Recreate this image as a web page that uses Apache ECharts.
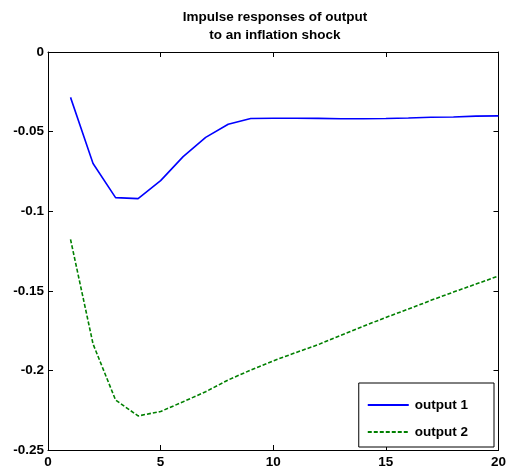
<!DOCTYPE html>
<html>
	<head>
		<meta charset="UTF-8">
		<title>Impulse responses</title>
		<script src="https://cdn.jsdelivr.net/npm/echarts@6/dist/echarts.min.js"></script>
		<style>
			html, body { margin: 0; padding: 0; background: #fff; }
			#chart { width: 509px; height: 476px; }
		</style>
	</head>
	<body>
		<div id="chart"></div>
		<script>
			// 数据
			var periods = [1, 2, 3, 4, 5, 6, 7, 8, 9, 10, 11, 12, 13, 14, 15, 16, 17, 18, 19, 20];
			var output1 = [-0.0285, -0.0700, -0.0915, -0.0921, -0.0808, -0.0657, -0.0536, -0.0454, -0.0418, -0.0416,
				-0.0416, -0.0417, -0.0419, -0.0419, -0.0418, -0.0415, -0.0410, -0.0408, -0.0403, -0.0401];
			var output2 = [-0.1177, -0.1834, -0.2186, -0.2286, -0.2258, -0.2197, -0.2134, -0.2060, -0.1998, -0.1940,
				-0.1888, -0.1838, -0.1780, -0.1723, -0.1667, -0.1615, -0.1560, -0.1508, -0.1458, -0.1407];
			var seriesNames = ['output 1', 'output 2'];

			function pairs(ys) {
				return periods.map(function(x, i) { return [x, ys[i]]; });
			}

			var chart = echarts.init(document.getElementById('chart'));
			var font = 'Liberation Sans, Arial, sans-serif';

			// 外框四边的轴线，刻度朝内
			var boxAxis = {
				axisLine: { show: true, onZero: false, lineStyle: { color: '#000', width: 1 } },
				axisTick: { show: true, inside: true, length: 5, lineStyle: { color: '#000' } },
				splitLine: { show: false }
			};

			var option = {
				animation: false,
				title: {
					text: 'Impulse responses of output\nto an inflation shock',
					left: 270,
					textAlign: 'center',
					top: 3,
					textStyle: { fontFamily: font, fontSize: 13.5, fontWeight: 'bold', color: '#000', lineHeight: 18 }
				},
				grid: { left: 48, top: 52, right: 10, bottom: 26 },
				legend: {
					data: seriesNames,
					orient: 'vertical',
					right: 15,
					bottom: 29,
					backgroundColor: '#fff',
					borderColor: '#000',
					borderWidth: 1,
					padding: [15, 26, 8, 8],
					itemGap: 13,
					itemWidth: 41,
					itemHeight: 14,
					itemStyle: { opacity: 0 },
					textStyle: { fontFamily: font, fontSize: 13.5, fontWeight: 'bold', color: '#000', padding: [0, 0, 0, 1] }
				},
				xAxis: [
					Object.assign({
						type: 'value', min: 0, max: 20, interval: 5, position: 'bottom',
						axisLabel: { color: '#000', fontFamily: font, fontSize: 13.5, fontWeight: 'bold', margin: 5 }
					}, boxAxis),
					Object.assign({
						type: 'value', min: 0, max: 20, interval: 5, position: 'top',
						axisLabel: { show: false }
					}, boxAxis)
				],
				yAxis: [
					Object.assign({
						type: 'value', min: -0.25, max: 0, interval: 0.05, position: 'left',
						axisLabel: { color: '#000', fontFamily: font, fontSize: 13.5, fontWeight: 'bold', margin: 4 }
					}, boxAxis),
					Object.assign({
						type: 'value', min: -0.25, max: 0, interval: 0.05, position: 'right',
						axisLabel: { show: false }
					}, boxAxis)
				],
				series: [{
					name: seriesNames[0],
					type: 'line',
					symbol: 'none',
					data: pairs(output1),
					lineStyle: { color: '#0000ff', width: 1.6 },
					itemStyle: { color: '#0000ff' }
				}, {
					name: seriesNames[1],
					type: 'line',
					symbol: 'none',
					data: pairs(output2),
					lineStyle: { color: '#008000', width: 1.6, type: [4, 2] },
					itemStyle: { color: '#008000' }
				}]
			};

			chart.setOption(option);
		</script>
	</body>
</html>
